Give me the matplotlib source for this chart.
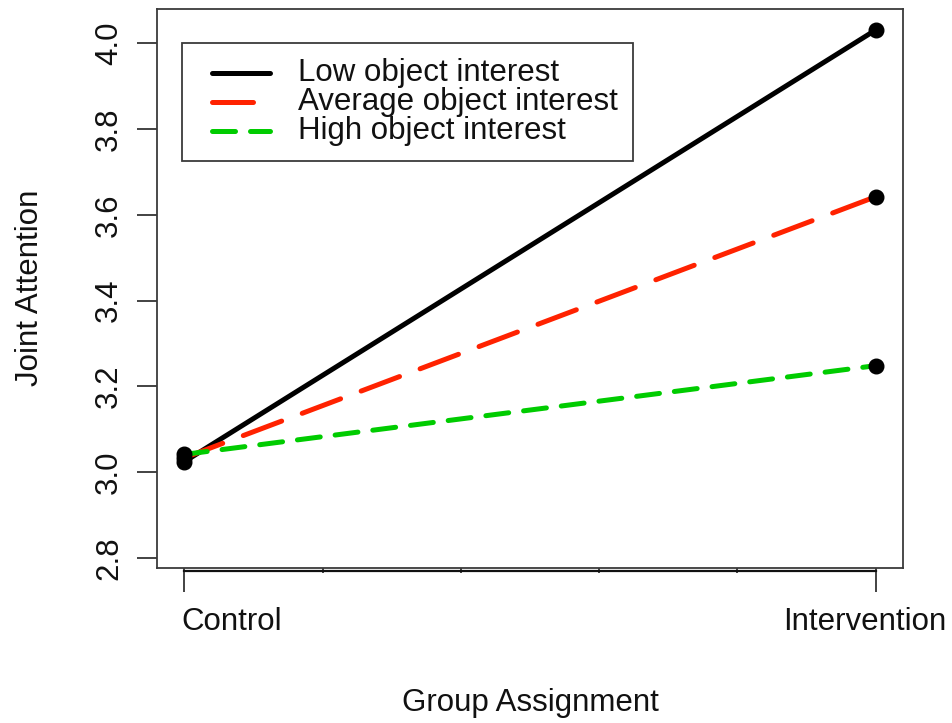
import matplotlib
matplotlib.use("Agg")
import matplotlib.pyplot as plt
from matplotlib.lines import Line2D
from matplotlib.patches import Rectangle
import matplotlib.transforms as mtransforms

# Predicted joint attention by group and level of object interest
groups = ["Control", "Intervention"]
group_x = [0, 1]
series_names = ["Low object interest", "Average object interest", "High object interest"]
low_interest = [3.024, 4.031]
avg_interest = [3.033, 3.642]
high_interest = [3.041, 3.248]
y_ticks = [2.8, 3.0, 3.2, 3.4, 3.6, 3.8, 4.0]
y_tick_labels = ["2.8", "3.0", "3.2", "3.4", "3.6", "3.8", "4.0"]
minor_x_ticks = [0.2, 0.4, 0.6, 0.8]

plt.rcParams["font.family"] = ["Liberation Sans", "DejaVu Sans"]
FS = 22.5

W, H = 952, 723
fig = plt.figure(figsize=(W / 100, H / 100), dpi=100)
fig.patch.set_facecolor("white")


def fx(px):
    return px / W


def fy(py):
    return 1 - py / H


ax = fig.add_axes([fx(156.7), fy(567.7), fx(903.3) - fx(156.7), fy(9) - fy(567.7)])
ax.set_xlim(-0.04, 1.04)
ax.set_ylim(2.7767, 4.080)

styles = [
    dict(color="black", dashes=None),
    dict(color="#ff2200", dashes=(8.2, 4.4)),
    dict(color="#00cc00", dashes=(4.6, 3.0)),
]
LW = 3.6
series = [low_interest, avg_interest, high_interest]

for vals, st in zip(series, styles):
    kw = dict(color=st["color"], lw=LW, solid_capstyle="round", dash_capstyle="round", zorder=3)
    if st["dashes"] is not None:
        kw["dashes"] = st["dashes"]
    ax.plot(group_x, vals, **kw)
for vals in series:
    ax.plot(group_x, vals, linestyle="none", marker="o", ms=10.5, color="black", zorder=4)

# frame
for sp in ax.spines.values():
    sp.set_color("#3a3a3a")
    sp.set_linewidth(1.3)

# y axis
ax.set_yticks(y_ticks)
ax.set_yticklabels(y_tick_labels, rotation=90, va="center", fontsize=FS, color="#111111")
ax.tick_params(axis="y", length=14.4, width=1.2, color="#222222", pad=9)

# x axis: major ticks at the groups, short minor ticks between
ax.set_xticks(group_x)
ax.set_xticklabels([])
ax.set_xticks(minor_x_ticks, minor=True)
ax.tick_params(axis="x", which="major", length=17, width=1.2, color="#222222")
ax.tick_params(axis="x", which="minor", length=3.5, width=1.2, color="#222222")
xline_tr = mtransforms.blended_transform_factory(ax.transData, ax.transAxes) + \
    mtransforms.ScaledTranslation(0, -3 / 100, fig.dpi_scale_trans)
ax.add_line(Line2D(group_x, [0, 0], color="#111111", lw=1.6, transform=xline_tr, clip_on=False))

label_offsets = [47, -11]
lab_tr = mtransforms.blended_transform_factory(ax.transData, fig.transFigure)
for xv, name, dx in zip(group_x, groups, label_offsets):
    ax.annotate(name, xy=(xv, fy(622)), xycoords=lab_tr, xytext=(dx * 0.72, 0),
                textcoords="offset points", ha="center", va="center",
                fontsize=FS, color="#111111", annotation_clip=False)

fig.text(fx(530), fy(703), "Group Assignment", ha="center", va="center", fontsize=FS, color="#111111")
fig.text(fx(30), fy(288), "Joint Attention", ha="center", va="center", rotation=90,
         fontsize=FS, color="#111111")

# legend
fig.add_artist(Rectangle((fx(182), fy(161)), fx(633) - fx(182), fy(43) - fy(161),
                         transform=fig.transFigure, fill=True, facecolor="white",
                         edgecolor="#3a3a3a", lw=1.3, zorder=5))
row_y = [73, 102, 131]
for name, st, ry in zip(series_names, styles, row_y):
    kw = dict(color=st["color"], lw=LW, solid_capstyle="round", dash_capstyle="round",
              transform=fig.transFigure, zorder=6)
    if st["dashes"] is not None:
        kw["dashes"] = st["dashes"]
    fig.add_artist(Line2D([fx(212), fx(270)], [fy(ry), fy(ry)], **kw))
    fig.text(fx(298), fy(ry), name, ha="left", va="center", fontsize=FS, color="#111111", zorder=6)

fig.savefig("out.png", dpi=100)
